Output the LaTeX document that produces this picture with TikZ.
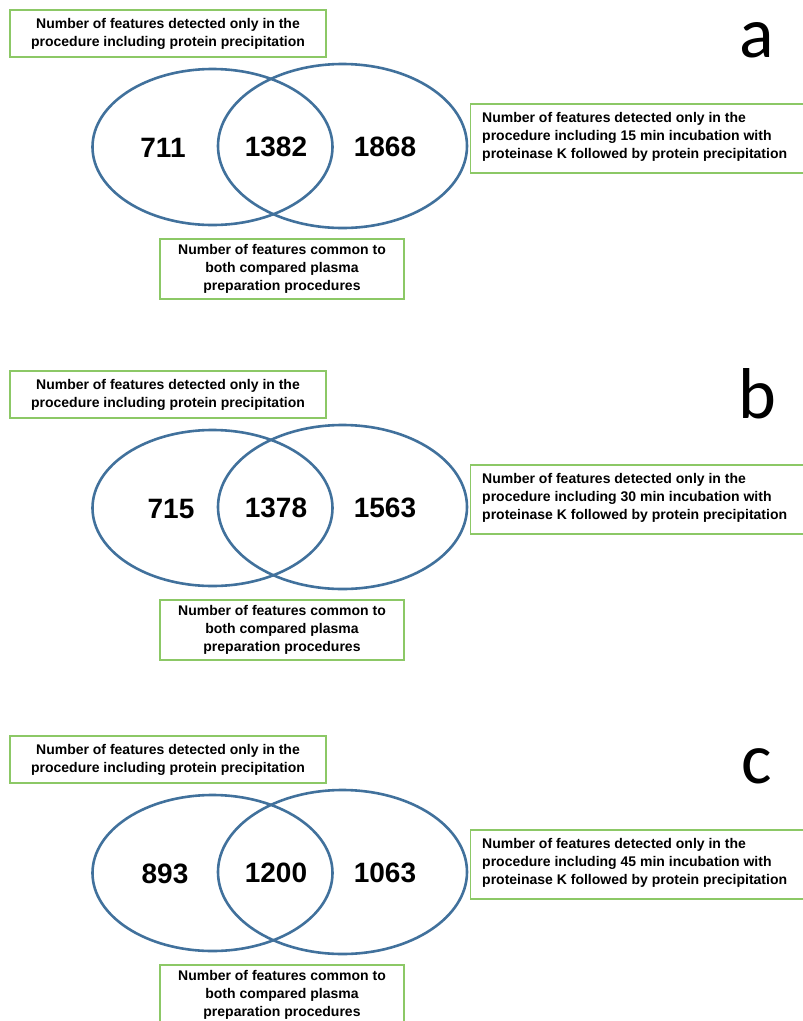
\documentclass[tikz,border=0pt]{standalone}
\usepackage{fontspec}
\setmainfont{Liberation Sans}
\newfontfamily\labelfont{Carlito}
\usetikzlibrary{shapes.geometric}
\definecolor{vennblue}{HTML}{41719C}
\definecolor{boxgreen}{HTML}{8CC866}
\tikzset{
  venn/.style={ellipse, draw=vennblue, line width=2.6pt, inner sep=0pt},
  gbox/.style={draw=boxgreen, line width=1.3pt, fill=white, inner sep=0pt,
     font=\fontsize{14}{18}\selectfont\bfseries},
  num/.style={font=\fontsize{28}{30}\selectfont\bfseries, inner sep=0pt},
  plabel/.style={font=\labelfont\fontsize{72}{72}\selectfont, inner sep=0pt, anchor=base},
}
\newcommand{\vennpanel}[8]{%
  \begin{scope}[shift={(0,#1)}]
    \node[venn, minimum width=240pt, minimum height=156pt] (#2L) at (212.5,147) {};
    \node[venn, minimum width=249pt, minimum height=164pt] (#2R) at (342.5,146) {};
    \node[num] (#2n1) at (#4,148) {#5};
    \node[num] (#2n2) at (276,147) {#6};
    \node[num] (#2n3) at (385,147) {#7};
    \node[gbox, minimum width=316pt, minimum height=47pt, align=center] (#2top) at (168,33.5)
      {Number of features detected only in the\\procedure including protein precipitation};
    \node[gbox, minimum width=340pt, minimum height=69pt, anchor=west] (#2right) at (470,138.5) {};
    \node[anchor=west, inner sep=0pt, align=left, font=\fontsize{14}{18}\selectfont\bfseries] (#2rtext) at (482,137)
      {Number of features detected only in the\\procedure including #8 min incubation with\\proteinase K followed by protein precipitation};
    \node[gbox, minimum width=244pt, minimum height=60pt, align=center] (#2bot) at (282,269)
      {Number of features common to\\both compared plasma\\preparation procedures};
    \node[plabel] (#2lab) at (757,57) {#3};
  \end{scope}}
\begin{document}
\begin{tikzpicture}[x=1pt,y=-1pt]
  \useasboundingbox (0,0) rectangle (803,1021);
  \clip (0,0) rectangle (803,1021);
  \vennpanel{0}{a}{a}{163}{711}{1382}{1868}{15}
  \vennpanel{361}{b}{b}{171}{715}{1378}{1563}{30}
  \vennpanel{726}{c}{c}{165}{893}{1200}{1063}{45}
\end{tikzpicture}
\end{document}
